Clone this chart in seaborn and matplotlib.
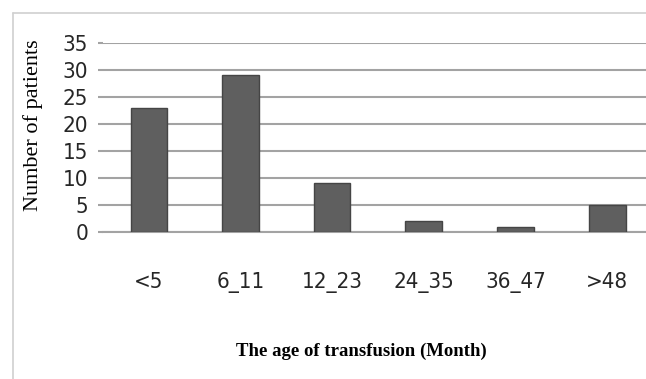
import numpy as np
import matplotlib
matplotlib.use("Agg")
import matplotlib.pyplot as plt
import seaborn as sns

# -------- DATOS --------
categorias = ["<5", "6_11", "12_23", "24_35", "36_47", ">48"]
pacientes = [23, 29, 9, 2, 1, 5]
y_ticks = [0, 5, 10, 15, 20, 25, 30, 35]

sns.set_style("white")
plt.rcParams["font.family"] = ["DejaVu Sans"]
plt.rcParams["font.stretch"] = "condensed"

W, H = 646, 379
fig = plt.figure(figsize=(W / 100, H / 100), dpi=100)
ax = fig.add_axes([103 / W, 1 - 232 / H, 550 / W, (232 - 43) / H])

gris = "#a3a3a3"
sns.barplot(x=categorias, y=pacientes, color="#5f5f5f", width=0.4,
            edgecolor="#454545", linewidth=1, saturation=1, ax=ax, zorder=3)

ax.set_xlim(-0.5, 5.5)
ax.set_ylim(0, 35)
ax.set_yticks(y_ticks)
ax.yaxis.grid(True, color=gris, linewidth=1.5, zorder=0)
ax.set_axisbelow(True)

for s in ["top", "right", "left"]:
    ax.spines[s].set_visible(False)
ax.spines["bottom"].set_color(gris)
ax.spines["bottom"].set_linewidth(1.5)

# marcas entre categorias
ax.set_xticks(np.arange(-0.5, 6, 1), minor=True)
ax.tick_params(axis="x", which="minor", length=7.5, width=1.2, color=gris, direction="out")
ax.tick_params(axis="x", which="major", length=0, pad=29, labelsize=16, labelcolor="#262626")
ax.tick_params(axis="y", which="major", length=3.6, width=1.5, color=gris, pad=7,
               labelsize=16, labelcolor="#262626", left=True)

ax.set_ylabel("Number of patients", family="Liberation Serif", fontsize=16, color="black")
ax.yaxis.set_label_coords(-0.109, 0.566)
ax.set_xlabel("The age of transfusion (Month)", family="Liberation Serif",
              fontsize=13.5, fontweight="bold", color="black")
ax.xaxis.set_label_coords(0.469, -0.587)

# marco exterior
borde = "#d0d0d0"
fig.add_artist(plt.Line2D([12.5 / W, 12.5 / W], [0, 1 - 13 / H], color=borde, lw=1.2))
fig.add_artist(plt.Line2D([12.5 / W, 1], [1 - 13 / H, 1 - 13 / H], color=borde, lw=1.2))

fig.savefig("out.png", dpi=100)
